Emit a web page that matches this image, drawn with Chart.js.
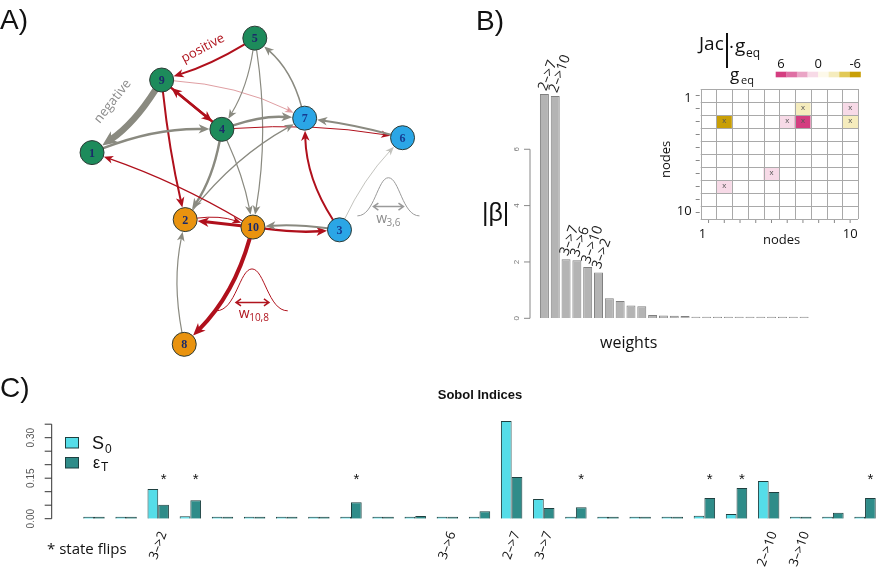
<!DOCTYPE html>
<html>
<head>
<meta charset="utf-8">
<script src="https://cdn.jsdelivr.net/npm/chart.js@4.4.1/dist/chart.umd.min.js"></script>
<style>
  body { margin: 0; background: #fff; }
  #wrap { position: relative; width: 878px; height: 573px; overflow: hidden; font-family: "Open Sans", sans-serif; color: #111; }
  canvas { position: absolute; }
  .t { position: absolute; white-space: nowrap; line-height: 1; }
</style>
</head>
<body>
<div id="wrap">
  <canvas id="netChart" width="440" height="375" style="left:0;top:0"></canvas>
  <canvas id="betaChart" width="420" height="360" style="left:460px;top:0"></canvas>
  <canvas id="jacChart" width="215" height="230" style="left:660px;top:25px"></canvas>
  <canvas id="sobolChart" width="890" height="193" style="left:0;top:380px"></canvas>

  <div class="t" style="left:0;top:4px;font:28px 'Liberation Sans'">A)</div>
  <div class="t" style="left:476px;top:5px;font:28px 'Liberation Sans'">B)</div>
  <div class="t" style="left:0;top:372px;font:28px 'Liberation Sans'">C)</div>

  <div class="t" style="left:482px;top:198px;font:25px 'Liberation Sans'">|β|</div>
  <div class="t" style="left:600px;top:331px;font:16px 'Open Sans'">weights</div>

  <div class="t" style="left:699px;top:30px;font:19px 'Open Sans'">Jac</div>
  <div style="position:absolute;left:726px;top:33px;width:1.5px;height:35px;background:#111"></div>
  <div class="t" style="left:729px;top:33px;font:19px 'Open Sans'">·</div>
  <div class="t" style="left:735px;top:32px;font:19px 'Open Sans'">g</div>
  <div class="t" style="left:746px;top:44px;font:12px 'Open Sans'">eq</div>
  <div class="t" style="left:730px;top:62px;font:17px 'Open Sans'">g</div>
  <div class="t" style="left:741px;top:72px;font:11px 'Open Sans'">eq</div>
  <div class="t" style="left:763px;top:230px;font:13px 'Open Sans'">nodes</div>
  <div class="t" style="left:656px;top:178px;font:13px 'Open Sans';transform:rotate(-90deg);transform-origin:left top">nodes</div>
</div>
<script>
// ---- panel A: network ----
const nodeIds = [1, 2, 3, 4, 5, 6, 7, 8, 9, 10];
const nodeX = [84, 183, 347, 222, 257, 414, 310, 182, 158, 255];
const nodeY = [150, 222, 233, 125, 27, 134, 113, 356, 72, 230];
const nodeGroup = ["g", "o", "b", "g", "g", "b", "b", "o", "g", "o"];

const edgeFrom = [5, 9, 9, 9, 4, 9, 5, 5, 4, 7, 1, 4, 4, 6, 4, 2, 10, 10, 2, 10, 3, 3, 3, 10, 8];
const edgeTo = [9, 1, 2, 4, 9, 7, 4, 10, 10, 5, 4, 7, 6, 7, 2, 7, 1, 2, 10, 3, 10, 7, 6, 8, 2];
const edgeWeight = [2, -6.5, 2, 2.5, 2.5, 0.5, -1.2, -1.2, -1.2, -1.5, -2.5, -2.5, 1, -2, -2.5, -1.2, 1.2, 3, 1, 2.5, -2, 2, -0.6, 4, -1.2];
const edgeBend = [-0.06, -0.1, 0.03, 0, 0, -0.1, -0.1, -0.08, -0.06, 0.15, -0.1, -0.1, -0.06, 0.03, -0.1, -0.1, 0.05, 0, -0.12, 0.05, 0.05, -0.14, -0.08, -0.13, -0.1];

// ---- panel B: |beta| per weight ----
const betaLabels = ["2–>7", "2–>10", "3–>7", "3–>6", "3–>10", "3–>2", "", "", "", "", "", "", "", "", "", "", "", "", "", "", "", "", "", "", ""];
const betaValues = [7.96, 7.89, 2.1, 2.06, 1.82, 1.63, 0.71, 0.61, 0.45, 0.43, 0.12, 0.1, 0.09, 0.08, 0.05, 0.04, 0.03, 0.02, 0.01, 0.01, 0.01, 0.01, 0.01, 0.01, 0.01];

// ---- inset: Jacobian ----
const jacNodes = [1, 2, 3, 4, 5, 6, 7, 8, 9, 10];
const jacRows = [
  [0, 0, 0, 0, 0, 0, 0, 0, 0, 0],
  [0, 0, 0, 0, 0, 0, -2, 0, 0, 1.2],
  [0, -6, 0, 0, 0, 1.2, 5.5, 0, 0, -2],
  [0, 0, 0, 0, 0, 0, 0, 0, 0, 0],
  [0, 0, 0, 0, 0, 0, 0, 0, 0, 0],
  [0, 0, 0, 0, 0, 0, 0, 0, 0, 0],
  [0, 0, 0, 0, 1.2, 0, 0, 0, 0, 0],
  [0, 1.2, 0, 0, 0, 0, 0, 0, 0, 0],
  [0, 0, 0, 0, 0, 0, 0, 0, 0, 0],
  [0, 0, 0, 0, 0, 0, 0, 0, 0, 0]
];
const jacPalette = ["#d43d80", "#df6fa4", "#eaa5c6", "#f7dae7", "#fdf9ea", "#f5ecbd", "#e2c956", "#c99f06"];

// ---- panel C: Sobol indices ----
const sobolLabels = ["", "", "3–>2", "", "", "", "", "", "", "", "", "3–>6", "", "2–>7", "3–>7", "", "", "", "", "", "", "2–>10", "3–>10", "", ""];
const s0Values = [0.001, 0.001, 0.110, 0.009, 0.001, 0.001, 0.001, 0.001, 0.003, 0.001, 0.001, 0.004, 0.002, 0.362, 0.073, 0.002, 0.001, 0.001, 0.001, 0.011, 0.017, 0.140, 0.001, 0.001, 0.002];
const eTValues = [0.002, 0.003, 0.052, 0.068, 0.003, 0.002, 0.001, 0.002, 0.061, 0.001, 0.010, 0.004, 0.028, 0.154, 0.040, 0.042, 0.001, 0.001, 0.003, 0.077, 0.114, 0.099, 0.002, 0.022, 0.077];
const stateFlips = [0, 0, 1, 1, 0, 0, 0, 0, 1, 0, 0, 0, 0, 0, 0, 1, 0, 0, 0, 1, 1, 0, 0, 0, 1];

const groupColors = { g: "#1d8b5b", o: "#e9930f", b: "#2ba6e6" };
const NODE_R = 12;

function edgeColor(w) {
  const a = Math.pow(Math.min(1, Math.abs(w)), 1.3);
  return w > 0 ? `rgba(176,16,28,${a})` : `rgba(138,138,128,${a})`;
}

function rotText(ctx, txt, x, y, deg, align) {
  ctx.save();
  ctx.translate(x, y);
  ctx.rotate(deg * Math.PI / 180);
  ctx.textAlign = align || "center";
  ctx.fillText(txt, 0, 0);
  ctx.restore();
}

// bell curve with a double arrow underneath the peak
function drawBell(ctx, x0, x1, yb, yt, color, ay, ax0, ax1) {
  const xp = (x0 + x1) / 2, hw = (x1 - x0) / 2;
  ctx.strokeStyle = color;
  ctx.lineWidth = 1;
  ctx.beginPath();
  ctx.moveTo(x0, yb);
  ctx.bezierCurveTo(x0 + hw * 0.55, yb, xp - hw * 0.35, yt, xp, yt);
  ctx.bezierCurveTo(xp + hw * 0.35, yt, x1 - hw * 0.55, yb, x1, yb);
  ctx.stroke();
  ctx.lineWidth = 1.5;
  ctx.beginPath();
  ctx.moveTo(ax0, ay); ctx.lineTo(ax1, ay);
  ctx.moveTo(ax0 + 5, ay - 3.5); ctx.lineTo(ax0, ay); ctx.lineTo(ax0 + 5, ay + 3.5);
  ctx.moveTo(ax1 - 5, ay - 3.5); ctx.lineTo(ax1, ay); ctx.lineTo(ax1 - 5, ay + 3.5);
  ctx.stroke();
}

const netPlugin = {
  id: "netEdges",
  beforeDatasetsDraw(chart) {
    const { ctx, scales: { x, y } } = chart;
    ctx.save();
    edgeFrom.forEach((f, i) => {
      const a = nodeIds.indexOf(f), b = nodeIds.indexOf(edgeTo[i]);
      const x1 = x.getPixelForValue(nodeX[a]), y1 = y.getPixelForValue(nodeY[a]);
      const x2 = x.getPixelForValue(nodeX[b]), y2 = y.getPixelForValue(nodeY[b]);
      const w = edgeWeight[i], bend = edgeBend[i];
      const dx = x2 - x1, dy = y2 - y1;
      const cx = (x1 + x2) / 2 - dy * bend, cy = (y1 + y2) / 2 + dx * bend;
      let ux = cx - x1, uy = cy - y1;
      const ul = Math.hypot(ux, uy);
      const sx = x1 + ux / ul * NODE_R, sy = y1 + uy / ul * NODE_R;
      let vx = x2 - cx, vy = y2 - cy;
      const vl = Math.hypot(vx, vy);
      vx /= vl; vy /= vl;
      const tx = x2 - vx * (NODE_R + 0.5), ty = y2 - vy * (NODE_R + 0.5);
      const aw = Math.abs(w);
      const head = 8 + aw * 1.1, hw = 3.2 + aw * 0.55;
      const col = edgeColor(w);
      ctx.strokeStyle = col;
      ctx.fillStyle = col;
      ctx.lineWidth = Math.max(1, aw);
      ctx.lineCap = "round";
      ctx.beginPath();
      ctx.moveTo(sx, sy);
      ctx.quadraticCurveTo(cx, cy, tx - vx * head * 0.7, ty - vy * head * 0.7);
      ctx.stroke();
      ctx.beginPath();
      ctx.moveTo(tx, ty);
      ctx.lineTo(tx - vx * head - vy * hw, ty - vy * head + vx * hw);
      ctx.lineTo(tx - vx * head * 0.72, ty - vy * head * 0.72);
      ctx.lineTo(tx - vx * head + vy * hw, ty - vy * head - vx * hw);
      ctx.closePath();
      ctx.fill();
    });
    ctx.restore();
  },
  afterDatasetsDraw(chart) {
    const { ctx, scales: { x, y } } = chart;
    const meta = chart.getDatasetMeta(0);
    ctx.save();
    ctx.font = "bold 12px 'Liberation Serif'";
    ctx.textBaseline = "middle";
    ctx.textAlign = "center";
    meta.data.forEach((pt, i) => {
      ctx.fillStyle = nodeGroup[i] === "b" ? "#163c92" : "#1b2a6a";
      ctx.fillText(String(nodeIds[i]), pt.x, pt.y + 1);
    });
    // edge-sign annotations
    ctx.font = "13px 'Open Sans'";
    ctx.fillStyle = "#b0141e";
    rotText(ctx, "positive", x.getPixelForValue(202), y.getPixelForValue(38), -28);
    ctx.fillStyle = "#8c8c8c";
    rotText(ctx, "negative", x.getPixelForValue(106), y.getPixelForValue(95), -52);
    // weight distributions
    drawBell(ctx, x.getPixelForValue(366), x.getPixelForValue(432), y.getPixelForValue(218), y.getPixelForValue(177),
      "#9a9a9a", y.getPixelForValue(208), x.getPixelForValue(383), x.getPixelForValue(415));
    drawBell(ctx, x.getPixelForValue(216), x.getPixelForValue(292), y.getPixelForValue(320), y.getPixelForValue(275),
      "#b0141e", y.getPixelForValue(311), x.getPixelForValue(237), x.getPixelForValue(272));
    ctx.textAlign = "left";
    ctx.textBaseline = "alphabetic";
    ctx.fillStyle = "#8c8c8c";
    ctx.font = "14px 'Open Sans'";
    ctx.fillText("w", x.getPixelForValue(386), y.getPixelForValue(226));
    ctx.font = "10px 'Open Sans'";
    ctx.fillText("3,6", x.getPixelForValue(397), y.getPixelForValue(229));
    ctx.fillStyle = "#b0141e";
    ctx.font = "14px 'Open Sans'";
    ctx.fillText("w", x.getPixelForValue(240), y.getPixelForValue(328));
    ctx.font = "10px 'Open Sans'";
    ctx.fillText("10,8", x.getPixelForValue(251), y.getPixelForValue(331));
    ctx.restore();
  }
};

new Chart(document.getElementById("netChart"), {
  type: "scatter",
  data: {
    datasets: [{
      data: nodeIds.map((id, i) => ({ x: nodeX[i], y: nodeY[i] })),
      pointRadius: NODE_R,
      pointHoverRadius: NODE_R,
      backgroundColor: nodeGroup.map((g) => groupColors[g]),
      borderColor: "#2d3b36",
      borderWidth: 1
    }]
  },
  options: {
    responsive: false,
    animation: false,
    layout: { padding: 0 },
    plugins: { legend: { display: false }, tooltip: { enabled: false } },
    scales: {
      x: { type: "linear", min: 0, max: 440, display: false },
      y: { type: "linear", min: 0, max: 375, reverse: true, display: false }
    }
  },
  plugins: [netPlugin]
});

// ---- panel B chart ----
const betaPlugin = {
  id: "betaAxis",
  afterDatasetsDraw(chart) {
    const { ctx, scales: { y } } = chart;
    const ax = 70;
    ctx.save();
    ctx.strokeStyle = "#888";
    ctx.lineWidth = 1;
    ctx.beginPath();
    ctx.moveTo(ax, y.getPixelForValue(0));
    ctx.lineTo(ax, y.getPixelForValue(6));
    [0, 2, 4, 6].forEach((v) => {
      ctx.moveTo(ax, y.getPixelForValue(v));
      ctx.lineTo(ax - 6, y.getPixelForValue(v));
    });
    ctx.stroke();
    ctx.fillStyle = "#777";
    ctx.font = "8px 'Liberation Sans'";
    ctx.textBaseline = "middle";
    [0, 2, 4, 6].forEach((v) => rotText(ctx, String(v), 57, y.getPixelForValue(v), -90));
    // labels above the leading bars
    const meta = chart.getDatasetMeta(0);
    ctx.fillStyle = "#222";
    ctx.font = "14px 'Open Sans'";
    meta.data.forEach((bar, i) => {
      if (betaLabels[i]) rotText(ctx, betaLabels[i], bar.x - 2, bar.y - 4, -70, "left");
    });
    ctx.restore();
  }
};

new Chart(document.getElementById("betaChart"), {
  type: "bar",
  data: {
    labels: betaLabels,
    datasets: [{
      data: betaValues,
      backgroundColor: "#b4b4b4",
      borderColor: "#808080",
      borderWidth: 1,
      minBarLength: 1.5,
      categoryPercentage: 1,
      barPercentage: 0.83
    }]
  },
  options: {
    responsive: false,
    animation: false,
    layout: { padding: { left: 79, right: 70.5, top: 90.1, bottom: 41.7 } },
    plugins: { legend: { display: false }, tooltip: { enabled: false } },
    scales: {
      x: { display: false },
      y: { display: false, min: 0, max: 8.1 }
    }
  },
  plugins: [betaPlugin]
});

// ---- inset heatmap ----
function jacColor(v) {
  if (v === 0) return "#ffffff";
  const idx = Math.max(0, Math.min(7, Math.floor((6 - v) / 1.5)));
  return jacPalette[idx];
}

const jacPlugin = {
  id: "jacGrid",
  afterDatasetsDraw(chart) {
    const { ctx, scales: { x, y }, chartArea: area } = chart;
    const step = (area.right - area.left) / jacNodes.length;
    ctx.save();
    ctx.strokeStyle = "#a9a9a9";
    ctx.lineWidth = 1;
    ctx.beginPath();
    for (let c = 0; c <= jacNodes.length; c++) {
      const px = Math.round(area.left + c * step) + 0.5;
      ctx.moveTo(px, y.getPixelForValue(0.5));
      ctx.lineTo(px, y.getPixelForValue(10.5));
    }
    for (let r = 0; r <= jacNodes.length; r++) {
      const py = Math.round(y.getPixelForValue(r + 0.5)) + 0.5;
      ctx.moveTo(area.left, py);
      ctx.lineTo(area.right, py);
    }
    ctx.stroke();
    // ticks
    ctx.strokeStyle = "#888";
    ctx.beginPath();
    jacNodes.forEach((n, i) => {
      const py = y.getPixelForValue(n);
      ctx.moveTo(area.left - 1, py); ctx.lineTo(area.left - 5, py);
      const px = x.getPixelForValue(i);
      ctx.moveTo(px, area.bottom + 1); ctx.lineTo(px, area.bottom + 4);
    });
    ctx.stroke();
    // x marks on non-zero cells
    ctx.fillStyle = "#555";
    ctx.font = "8px 'Liberation Sans'";
    ctx.textAlign = "center";
    ctx.textBaseline = "middle";
    jacRows.forEach((row, r) => row.forEach((v, c) => {
      if (v !== 0) ctx.fillText("x", x.getPixelForValue(c), y.getPixelForValue(r + 1) - 0.5);
    }));
    // tick labels
    ctx.fillStyle = "#111";
    ctx.font = "13px 'Open Sans'";
    ctx.textAlign = "right";
    ctx.fillText("1", area.left - 9, y.getPixelForValue(1) + 3);
    ctx.fillText("10", area.left - 9, y.getPixelForValue(10) - 1);
    ctx.textAlign = "center";
    ctx.fillText("1", x.getPixelForValue(0) - 6, area.bottom + 15);
    ctx.fillText("10", x.getPixelForValue(9), area.bottom + 15);
    // colour key
    const kx = 115.7, kw = 10.6, ky = 46.7, kh = 5.6;
    jacPalette.forEach((col, i) => {
      ctx.fillStyle = col;
      ctx.fillRect(kx + i * kw, ky, kw + 0.3, kh);
    });
    ctx.fillStyle = "#111";
    ctx.fillText("6", kx + kw * 0.5, ky - 7);
    ctx.fillText("0", kx + kw * 4, ky - 7);
    ctx.fillText("-6", kx + kw * 7.5, ky - 7);
    ctx.restore();
  }
};

new Chart(document.getElementById("jacChart"), {
  type: "bar",
  data: {
    labels: jacNodes.map(String),
    datasets: jacRows.map((row, r) => ({
      data: row.map(() => [r + 0.5, r + 1.5]),
      backgroundColor: row.map(jacColor),
      borderWidth: 0,
      grouped: false,
      categoryPercentage: 1,
      barPercentage: 1
    }))
  },
  options: {
    responsive: false,
    animation: false,
    layout: { padding: { left: 40.7, right: 17, top: 64, bottom: 36 } },
    plugins: { legend: { display: false }, tooltip: { enabled: false } },
    scales: {
      x: { display: false },
      y: { display: false, min: 0.5, max: 10.5, reverse: true }
    }
  },
  plugins: [jacPlugin]
});

// ---- panel C chart ----
const sobolPlugin = {
  id: "sobolAxis",
  afterDatasetsDraw(chart) {
    const { ctx, scales: { x, y } } = chart;
    const ax = 51.7;
    ctx.save();
    ctx.strokeStyle = "#333";
    ctx.lineWidth = 1;
    ctx.beginPath();
    ctx.moveTo(ax, y.getPixelForValue(0));
    ctx.lineTo(ax, y.getPixelForValue(0.35));
    [0, 0.05, 0.1, 0.15, 0.2, 0.25, 0.3, 0.35].forEach((v) => {
      ctx.moveTo(ax, y.getPixelForValue(v));
      ctx.lineTo(ax - 7, y.getPixelForValue(v));
    });
    ctx.stroke();
    ctx.fillStyle = "#555";
    ctx.font = "10px 'Liberation Sans'";
    ctx.textBaseline = "middle";
    [0, 0.15, 0.3].forEach((v) => rotText(ctx, v.toFixed(2), 31, y.getPixelForValue(v), -90));
    // stars for state flips
    const meta = chart.getDatasetMeta(1);
    ctx.fillStyle = "#111";
    ctx.font = "15px 'Liberation Sans'";
    ctx.textAlign = "center";
    meta.data.forEach((bar, i) => {
      if (stateFlips[i]) ctx.fillText("*", bar.x, y.getPixelForValue(0.16) + 4);
    });
    // rotated weight labels
    ctx.font = "13px 'Open Sans'";
    sobolLabels.forEach((lab, i) => {
      if (lab) rotText(ctx, lab, x.getPixelForValue(i) + 5, 152, -70, "right");
    });
    // legend
    ctx.strokeStyle = "#1e4040";
    [["#55dde8", 57], ["#2f8c89", 77]].forEach(([col, ty]) => {
      ctx.fillStyle = col;
      ctx.fillRect(65.5, ty + 0.5, 13, 10.5);
      ctx.strokeRect(65.5, ty + 0.5, 13, 10.5);
    });
    ctx.fillStyle = "#111";
    ctx.textAlign = "left";
    ctx.textBaseline = "alphabetic";
    ctx.font = "18px 'Liberation Sans'";
    ctx.fillText("S", 92, 69);
    ctx.font = "12px 'Liberation Sans'";
    ctx.fillText("0", 105, 73);
    ctx.font = "16px 'Liberation Sans'";
    ctx.fillText("ε", 93, 88);
    ctx.font = "12px 'Liberation Sans'";
    ctx.fillText("T", 101, 91);
    ctx.font = "15px 'Open Sans'";
    ctx.fillText("* state flips", 47, 174);
    ctx.font = "bold 13px 'Liberation Sans'";
    ctx.textAlign = "center";
    ctx.fillText("Sobol Indices", 480, 19);
    ctx.restore();
  }
};

new Chart(document.getElementById("sobolChart"), {
  type: "bar",
  data: {
    labels: sobolLabels,
    datasets: [
      { label: "S0", data: s0Values, backgroundColor: "#55dde8", borderColor: "#1e4040", borderWidth: 1, minBarLength: 2, categoryPercentage: 2 / 3, barPercentage: 1 },
      { label: "eT", data: eTValues, backgroundColor: "#2f8c89", borderColor: "#1e4040", borderWidth: 1, minBarLength: 2, categoryPercentage: 2 / 3, barPercentage: 1 }
    ]
  },
  options: {
    responsive: false,
    animation: false,
    layout: { padding: { left: 77.9, right: 8.9, top: 38.8, bottom: 54.3 } },
    plugins: { legend: { display: false }, tooltip: { enabled: false } },
    scales: {
      x: { display: false },
      y: { display: false, min: 0, max: 0.37 }
    }
  },
  plugins: [sobolPlugin]
});
</script>
</body>
</html>
